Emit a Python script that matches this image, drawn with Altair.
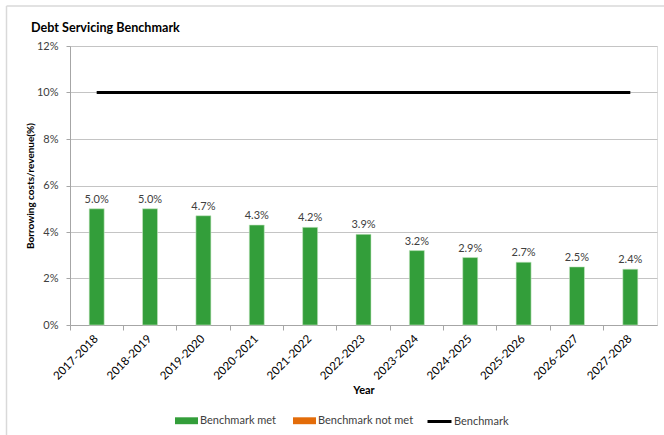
import altair as alt
import pandas as pd

years = ["2017-2018", "2018-2019", "2019-2020", "2020-2021", "2021-2022", "2022-2023",
         "2023-2024", "2024-2025", "2025-2026", "2026-2027", "2027-2028"]
ratio = [5.0, 5.0, 4.7, 4.3, 4.2, 3.9, 3.2, 2.9, 2.7, 2.5, 2.4]
benchmark = [10.0] * len(years)
status = ["Benchmark met"] * len(years)
chart_title = "Debt Servicing Benchmark"

FONT = "Lato"
GREEN = "#339e3a"
ORANGE = "#e36c09"
GRID = "#c4c4c4"

df = pd.DataFrame({
    "Year": years,
    "ratio": [v / 100 for v in ratio],
    "bench": [v / 100 for v in benchmark],
    "status": status,
    "line": ["Benchmark"] * len(years),
})

x = alt.X(
    "Year:N",
    sort=years,
    scale=alt.Scale(paddingInner=0, paddingOuter=0),
    axis=alt.Axis(
        title="Year", titleFont=FONT, titleFontSize=11, titleFontWeight="bold",
        titleColor="#000000", titlePadding=3,
        labelAngle=-45, labelAlign="right", labelBaseline="middle",
        labelFont=FONT, labelFontSize=11.5, labelColor="#000000",
        labelOffset=0, labelPadding=7, bandPosition=0,
        tickSize=5, tickColor="#a6a6a6", domainColor="#a6a6a6", grid=False,
    ),
)

yscale = alt.Scale(domain=[0, 0.12])
yaxis = alt.Axis(
    title="Borrowing costs/revenue(%)", titleFont=FONT, titleFontSize=10,
    titleFontWeight="bold", titleColor="#000000", titlePadding=1,
    values=[0, 0.02, 0.04, 0.06, 0.08, 0.10, 0.12], format=".0%",
    labelFont=FONT, labelFontSize=11, labelColor="#404040", labelPadding=8,
    tickSize=4, tickColor="#a6a6a6", domainColor="#a6a6a6",
    gridColor=GRID, gridWidth=1.2,
)

bars = alt.Chart(df).mark_bar(width=15, stroke="#c7e8c5", strokeWidth=0.6).encode(
    x=x,
    y=alt.Y("ratio:Q", scale=yscale, axis=yaxis),
    fill=alt.Fill(
        "status:N",
        scale=alt.Scale(domain=["Benchmark met", "Benchmark not met"], range=[GREEN, ORANGE]),
        legend=alt.Legend(
            title=None, orient="none", direction="horizontal", legendX=105, legendY=363,
            symbolType="M-1,-0.3H1V0.3H-1Z", symbolSize=529, symbolStrokeWidth=0,
            labelFont=FONT, labelFontSize=11, labelColor="#404040",
            columnPadding=16, labelOffset=2, padding=0,
        ),
    ),
)

labels = alt.Chart(df).mark_text(
    font=FONT, fontSize=11, color="#404040", baseline="bottom", dy=-4
).encode(
    x=alt.X("Year:N", sort=years),
    y=alt.Y("ratio:Q"),
    text=alt.Text("ratio:Q", format=".1%"),
)

line = alt.Chart(df).mark_line(strokeWidth=3).encode(
    x=alt.X("Year:N", sort=years),
    y=alt.Y("bench:Q"),
    stroke=alt.Stroke(
        "line:N",
        scale=alt.Scale(domain=["Benchmark"], range=["#000000"]),
        legend=alt.Legend(
            title=None, orient="none", direction="horizontal", legendX=356, legendY=362,
            symbolType="stroke", symbolSize=576, symbolStrokeWidth=3,
            labelFont=FONT, labelFontSize=11, labelColor="#404040",
            labelOffset=1, padding=0,
        ),
    ),
)

one = alt.Data(values=[{}])
border = alt.Chart(one).mark_rule(color="#d9d9d9", strokeWidth=1.5).encode(
    x=alt.value(-63.5), y=alt.value(-40), y2=alt.value(400)
)
border_top = alt.Chart(one).mark_rule(color="#d9d9d9", strokeWidth=1.5).encode(
    x=alt.value(-63.5), x2=alt.value(600), y=alt.value(-40)
)
title = alt.Chart(one).mark_text(
    font=FONT, fontSize=12.6, fontWeight="bold", color="#000000",
    align="left", baseline="alphabetic",
).encode(x=alt.value(-39), y=alt.value(-14), text=alt.value(chart_title))

chart = alt.layer(bars, line, labels, border, border_top, title).resolve_scale(
    fill="independent", stroke="independent"
).properties(
    width=587,
    height=279,
    autosize=alt.AutoSizeParams(type="none"),
    padding={"left": 70, "top": 46, "right": 7, "bottom": 110},
).configure_view(stroke=None).configure(background="white")

chart.save("out.html", embed_options={"renderer": "svg", "actions": False})
